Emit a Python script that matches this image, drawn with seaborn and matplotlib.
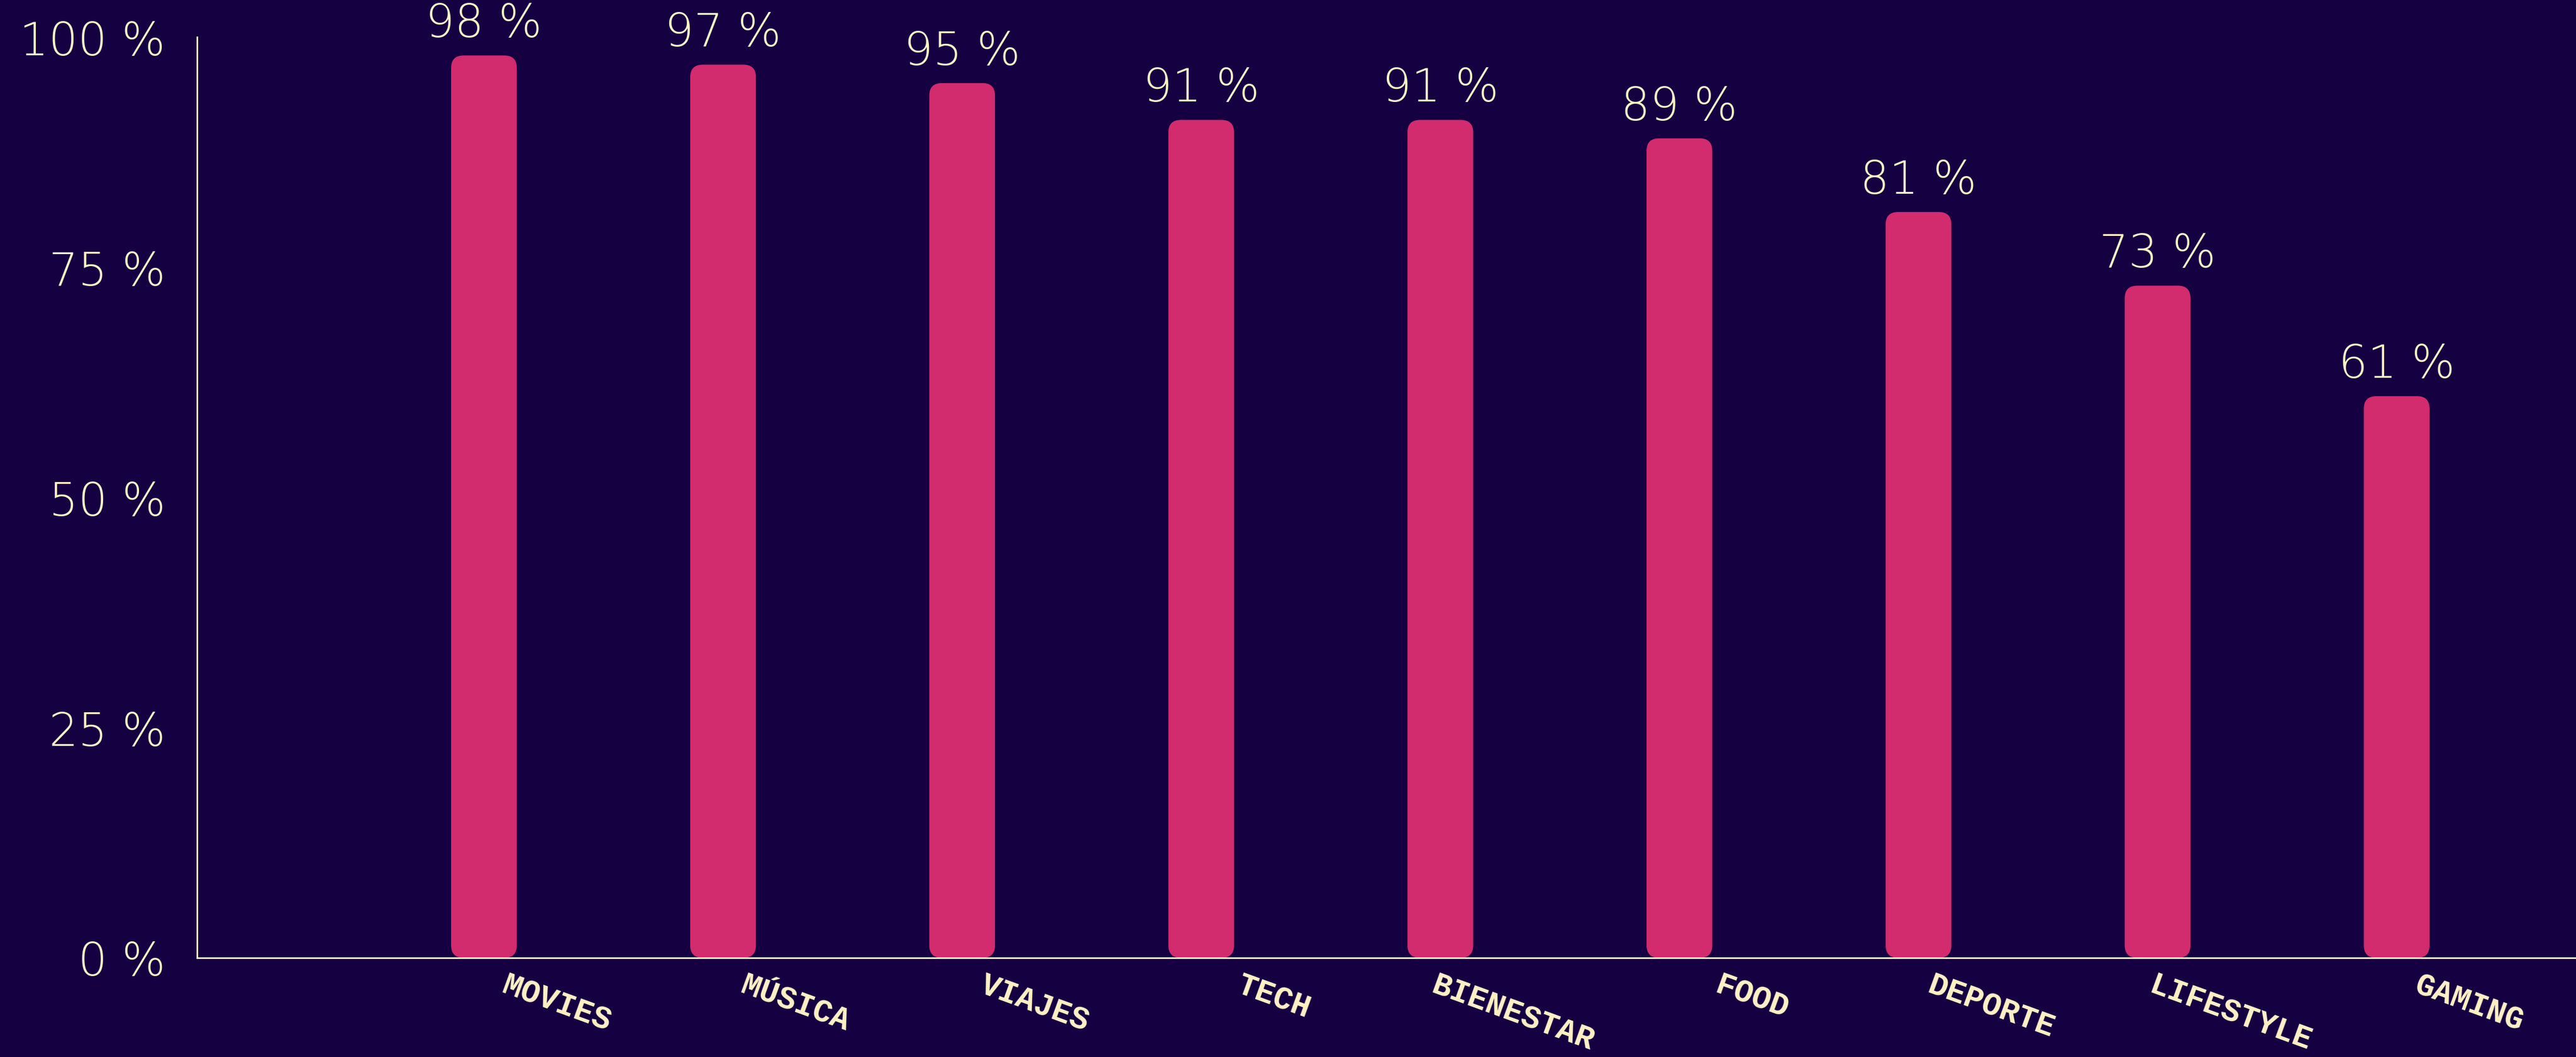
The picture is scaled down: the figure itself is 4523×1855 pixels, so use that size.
import matplotlib
matplotlib.use("Agg")
import matplotlib.pyplot as plt
import matplotlib.transforms as mtransforms
import seaborn as sns
import pandas as pd
from matplotlib.patches import FancyBboxPatch

categories = ["MOVIES", "MÚSICA", "VIAJES", "TECH", "BIENESTAR", "FOOD", "DEPORTE", "LIFESTYLE", "GAMING"]
values = [98, 97, 95, 91, 91, 89, 81, 73, 61]
yticks = [0, 25, 50, 75, 100]
ytick_labels = ["0 %", "25 %", "50 %", "75 %", "100 %"]

BG = "#150042"
BAR = "#D22B6E"
CREAM = "#FFF2C6"

sns.set_theme(style="white")
plt.rcParams["font.family"] = ["DejaVu Sans"]

W, H = 4523, 1856
fig = plt.figure(figsize=(W / 100, H / 100), dpi=100, facecolor=BG)
left, right = 346 / W, 1.0
bottom, top = 1 - 1682 / H, 1 - 66 / H
ax = fig.add_axes([left, bottom, right - left, top - bottom], facecolor=BG)

df = pd.DataFrame({"cat": categories, "val": values})
sns.barplot(data=df, x="cat", y="val", color=BAR, width=0.275, ax=ax, saturation=1)

xmin, xmax = -1.2, 8.75
ax.set_xlim(xmin, xmax)
ax.set_ylim(0, 100)

# rounded bars
ax_w_px = (right - left) * W
ax_h_px = (top - bottom) * H
xu = (xmax - xmin) / ax_w_px
yu = 100 / ax_h_px
aspect = yu / xu
r = 22 * xu
for p in list(ax.patches):
    x0, y0 = p.get_x(), p.get_y()
    w, h = p.get_width(), p.get_height()
    p.remove()
    fb = FancyBboxPatch((x0, y0), w, h,
                        boxstyle=f"round,pad=0,rounding_size={r}",
                        mutation_aspect=aspect, facecolor=BAR, edgecolor="none")
    ax.add_patch(fb)

for i, v in enumerate(values):
    ax.annotate(f"{v} %", (i, v), xytext=(0, 12), textcoords="offset points",
                ha="center", va="bottom", color=CREAM, fontsize=58, fontweight=200)

ax.set_yticks(yticks)
ax.set_yticklabels(ytick_labels, color=CREAM, fontsize=58, fontweight=200)
ax.tick_params(axis="y", length=0, pad=40)
ax.set_xticks(range(len(categories)))
ax.set_xticklabels(categories, rotation=-20, ha="center", va="top", rotation_mode="default",
                   color=CREAM, fontsize=40, fontweight="bold", family=["Liberation Mono", "DejaVu Sans Mono"])
ax.tick_params(axis="x", length=0, pad=16)
off = mtransforms.ScaledTranslation(127 / 100, 0, fig.dpi_scale_trans)
for lbl in ax.get_xticklabels():
    lbl.set_transform(lbl.get_transform() + off)

ax.set_xlabel("")
ax.set_ylabel("")
for s in ["top", "right"]:
    ax.spines[s].set_visible(False)
for s in ["left", "bottom"]:
    ax.spines[s].set_color(CREAM)
    ax.spines[s].set_linewidth(2)
ax.grid(False)

fig.savefig("out.png", dpi=100, facecolor=BG)
